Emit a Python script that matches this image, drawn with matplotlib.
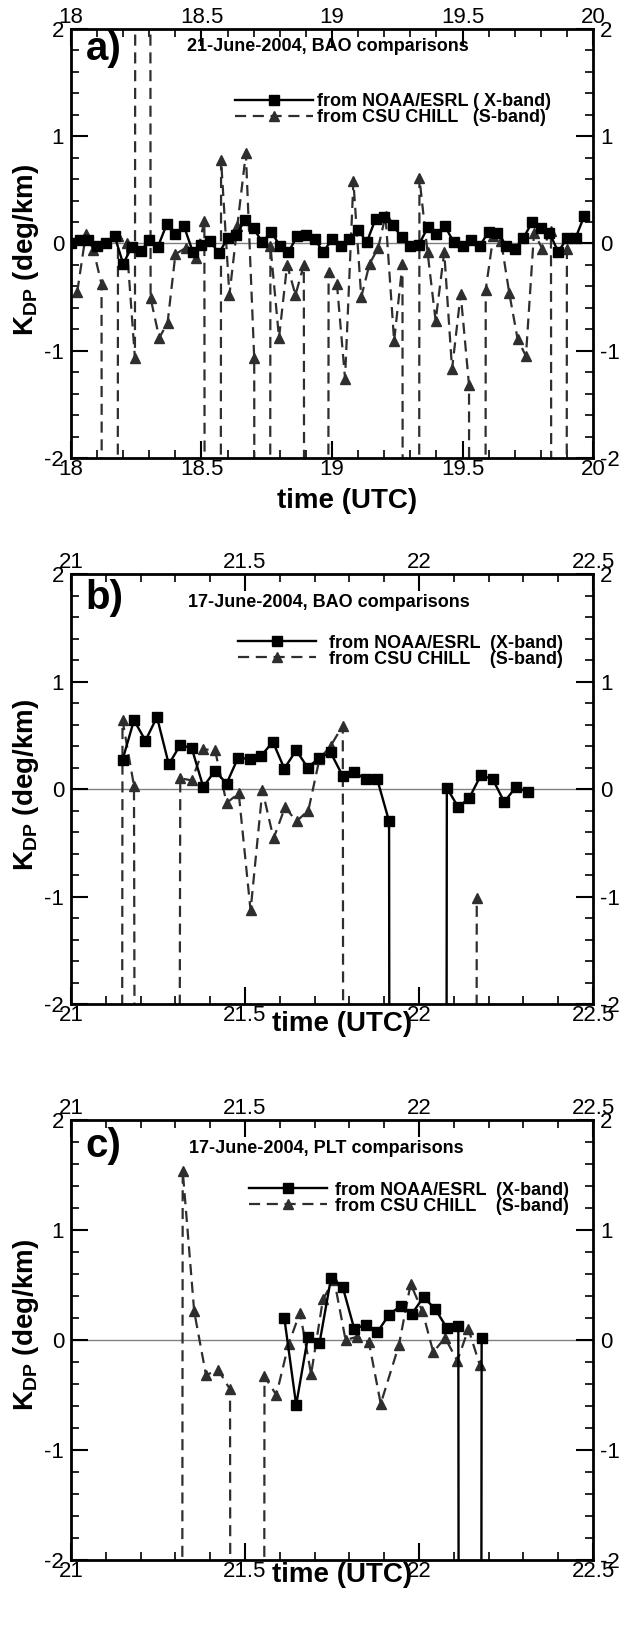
import matplotlib.pyplot as plt
from matplotlib.ticker import MultipleLocator, FormatStrFormatter

# fonts (Helvetica-like)
plt.rcParams['font.family'] = ['Liberation Sans', 'DejaVu Sans']
plt.rcParams['mathtext.fontset'] = 'custom'
plt.rcParams['mathtext.rm'] = 'Liberation Sans'
plt.rcParams['mathtext.bf'] = 'Liberation Sans:bold'

# -99 / 99 are the radar fill values (missing gates), they run off the plot
# ---- a) 21 June 2004, BAO ----
xa_t = [18.000, 18.033, 18.067, 18.100, 18.133, 18.167, 18.200, 18.233, 18.267, 18.300,
        18.333, 18.367, 18.400, 18.433, 18.467, 18.500, 18.533, 18.567, 18.600, 18.633,
        18.667, 18.700, 18.733, 18.767, 18.800, 18.833, 18.867, 18.900, 18.933, 18.967,
        19.000, 19.033, 19.067, 19.100, 19.133, 19.167, 19.200, 19.233, 19.267, 19.300,
        19.333, 19.367, 19.400, 19.433, 19.467, 19.500, 19.533, 19.567, 19.600, 19.633,
        19.667, 19.700, 19.733, 19.767, 19.800, 19.833, 19.867, 19.900, 19.933, 19.967]
xa_v = [0.00, 0.03, 0.03, -0.02, 0.00, 0.07, -0.19, -0.03, -0.07, 0.03,
        -0.03, 0.18, 0.09, 0.16, -0.08, -0.01, 0.02, -0.09, 0.05, 0.08,
        0.22, 0.14, 0.01, 0.11, -0.02, -0.08, 0.07, 0.08, 0.04, -0.08,
        0.04, -0.02, 0.04, 0.13, 0.01, 0.23, 0.25, 0.17, 0.06, -0.02,
        -0.01, 0.15, 0.09, 0.16, 0.01, -0.02, 0.03, -0.02, 0.11, 0.10,
        -0.02, -0.05, 0.05, 0.20, 0.14, 0.10, -0.08, 0.05, 0.05, 0.26]
sa_t = [18.024, 18.057, 18.086, 18.117, 18.149, 18.180, 18.213, 18.245, 18.275, 18.305,
        18.338, 18.370, 18.400, 18.440, 18.479, 18.511, 18.543, 18.575, 18.607, 18.637,
        18.670, 18.702, 18.733, 18.764, 18.797, 18.828, 18.860, 18.892, 18.940, 18.987,
        19.019, 19.050, 19.082, 19.112, 19.144, 19.177, 19.205, 19.238, 19.270, 19.302,
        19.335, 19.366, 19.397, 19.430, 19.460, 19.493, 19.525, 19.557, 19.589, 19.618,
        19.648, 19.679, 19.711, 19.743, 19.774, 19.806, 19.839, 19.870, 19.900]
sa_v = [-0.45, 0.09, -0.06, -0.38, -99, 0.07, 0.00, -1.07, 99, -0.51,
        -0.88, -0.74, -0.10, -0.04, -0.14, 0.21, -99, 0.78, -0.48, 0.16,
        0.84, -1.07, -99, -0.02, -0.88, -0.20, -0.48, -0.20, -99, -0.27,
        -0.38, -1.26, 0.58, -0.50, -0.19, -0.04, 0.26, -0.91, -0.19, -99,
        0.61, -0.08, -0.72, -0.08, -1.17, -0.47, -1.32, -99, -0.43, 0.07,
        0.02, -0.46, -0.89, -1.05, 0.10, -0.05, 0.12, -99, -0.05]

# ---- b) 17 June 2004, BAO ----
xb_t = [21.148, 21.181, 21.214, 21.247, 21.281, 21.314, 21.347, 21.380, 21.414, 21.447,
        21.480, 21.513, 21.547, 21.580, 21.613, 21.647, 21.680, 21.714, 21.746, 21.781,
        21.813, 21.847, 21.880, 21.914, 21.947, 22.047, 22.080, 22.113, 22.145, 22.178,
        22.212, 22.245, 22.279, 22.312]
xb_v = [0.27, 0.64, 0.45, 0.67, 0.23, 0.41, 0.38, 0.02, 0.17, 0.05,
        0.29, 0.28, 0.31, 0.44, 0.19, 0.36, 0.20, 0.29, 0.34, 0.12,
        0.16, 0.09, 0.09, -0.30, -99, -99, 0.01, -0.17, -0.08, 0.13,
        0.09, -0.12, 0.02, -0.03]
sb_t = [21.115, 21.148, 21.181, 21.248, 21.314, 21.347, 21.380, 21.414, 21.447, 21.482,
        21.516, 21.550, 21.582, 21.615, 21.648, 21.682, 21.714, 21.746, 21.781, 21.814,
        22.133, 22.166]
sb_v = [-99, 0.64, 0.03, -99, 0.10, 0.08, 0.37, 0.36, -0.13, -0.04,
        -1.13, -0.01, -0.46, -0.17, -0.30, -0.20, 0.28, 0.40, 0.59, -99,
        -99, -1.01]

# ---- c) 17 June 2004, PLT ----
xc_t = [21.613, 21.647, 21.681, 21.714, 21.747, 21.781, 21.814, 21.847, 21.880, 21.914,
        21.947, 21.980, 22.013, 22.047, 22.080, 22.113, 22.146, 22.180]
xc_v = [0.20, -0.59, 0.03, -0.03, 0.56, 0.48, 0.10, 0.14, 0.07, 0.23,
        0.31, 0.24, 0.39, 0.28, 0.11, 0.13, -99, 0.02]
sc_t = [21.290, 21.321, 21.354, 21.388, 21.423, 21.457, 21.490, 21.523, 21.556, 21.590,
        21.625, 21.658, 21.690, 21.724, 21.756, 21.789, 21.823, 21.856, 21.890, 21.942,
        21.976, 22.010, 22.041, 22.075, 22.110, 22.142, 22.175]
sc_v = [-99, 1.54, 0.26, -0.32, -0.27, -0.45, -99, -99, -0.33, -0.50,
        -0.04, 0.25, -0.31, 0.37, 0.55, 0.00, 0.03, -0.02, -0.58, -0.05,
        0.51, 0.26, -0.11, 0.02, -0.19, 0.10, -0.23]

panels = [
    dict(xt=xa_t, xv=xa_v, st=sa_t, sv=sa_v, xlim=(18, 20), tag='a)',
         title='21-June-2004, BAO comparisons',
         lab=['from NOAA/ESRL ( X-band)', 'from CSU CHILL   (S-band)']),
    dict(xt=xb_t, xv=xb_v, st=sb_t, sv=sb_v, xlim=(21, 22.5), tag='b)',
         title='17-June-2004, BAO comparisons',
         lab=['from NOAA/ESRL  (X-band)', 'from CSU CHILL    (S-band)']),
    dict(xt=xc_t, xv=xc_v, st=sc_t, sv=sc_v, xlim=(21, 22.5), tag='c)',
         title='17-June-2004, PLT comparisons',
         lab=['from NOAA/ESRL  (X-band)', 'from CSU CHILL    (S-band)']),
]

# axes boxes in figure fraction (figure is 619 x 1627 px)
boxes = [[0.1147, 0.7185, 0.8433, 0.2637],
         [0.1147, 0.3829, 0.8433, 0.2643],
         [0.1147, 0.0412, 0.8433, 0.2704]]
tag_y = [0.998, 0.988, 0.985]
title_pos = [(0.493, 0.959), (0.494, 0.933), (0.49, 0.936)]
leg_pos = [(0.315, 0.85), (0.32, 0.859), (0.341, 0.86)]
leg_pad = [0.2, 0.75, 0.45]
xlab_pos = [(0.529, -0.07), (0.52, -0.016), (0.52, -0.004)]
ylab_y = [0.485, 0.509, 0.534]

fig = plt.figure(figsize=(6.19, 16.27), dpi=100)

for i, p in enumerate(panels):
    ax = fig.add_axes(boxes[i])

    ax.axhline(0, color='#808080', lw=1.0, zorder=1)
    ls, = ax.plot(p['st'], p['sv'], color='#2e2e2e', lw=1.6, ls=(0, (5, 3)),
                  marker='^', ms=6.5, zorder=2)
    lx, = ax.plot(p['xt'], p['xv'], color='black', lw=1.7, ls='-',
                  marker='s', ms=6.5, zorder=3)

    ax.set_xlim(*p['xlim'])
    ax.set_ylim(-2, 2)
    ax.xaxis.set_major_locator(MultipleLocator(0.5))
    ax.xaxis.set_minor_locator(MultipleLocator(0.1))
    ax.yaxis.set_major_locator(MultipleLocator(1))
    ax.yaxis.set_minor_locator(MultipleLocator(0.2))
    ax.xaxis.set_major_formatter(FormatStrFormatter('%g'))
    ax.yaxis.set_major_formatter(FormatStrFormatter('%g'))
    ax.tick_params(which='both', direction='in', top=True, right=True,
                   labeltop=True, labelright=True, labelsize=16)
    ax.tick_params(which='major', length=12, width=1.5)
    ax.tick_params(which='minor', length=6, width=1.2)
    ax.tick_params(axis='x', pad=1)
    ax.tick_params(axis='y', pad=5)
    for s in ax.spines.values():
        s.set_linewidth(2.0)

    # panel letter and title
    ax.text(0.028, tag_y[i], p['tag'], transform=ax.transAxes, ha='left', va='top',
            fontsize=29, fontweight='bold')
    ax.text(title_pos[i][0], title_pos[i][1], p['title'], transform=ax.transAxes,
            ha='center', va='center', fontsize=13, fontweight='bold')

    ax.legend([lx, ls], p['lab'], loc='upper left', bbox_to_anchor=leg_pos[i],
              frameon=False, prop={'size': 13, 'weight': 'bold'},
              handlelength=4.3, handletextpad=leg_pad[i], labelspacing=-0.05,
              borderpad=0, borderaxespad=0)

    ax.set_xlabel('time (UTC)', fontsize=20, fontweight='bold')
    ax.xaxis.set_label_coords(*xlab_pos[i])
    ax.set_ylabel(r'K$_{\mathbf{DP}}$ (deg/km)', fontsize=20, fontweight='bold')
    ax.yaxis.set_label_coords(-0.057, ylab_y[i])

plt.savefig('out.png', dpi=100)
